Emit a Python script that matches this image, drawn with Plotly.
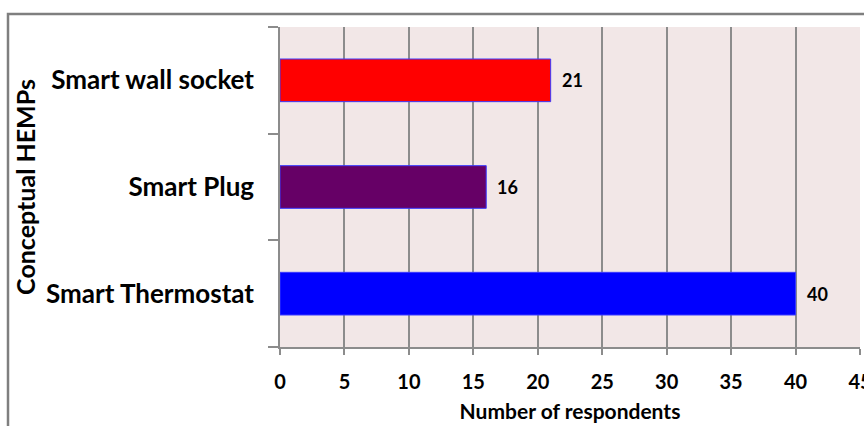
import plotly.graph_objects as go

# Survey results: preferred conceptual home energy management products
products = ["Smart Thermostat", "Smart Plug", "Smart wall socket"]
respondents = [40, 16, 21]
bar_colors = ["#0000FF", "#660066", "#FF0000"]

x_ticks = [0, 5, 10, 15, 20, 25, 30, 35, 40, 45]

FONT = "Lato, Carlito, Calibri, sans-serif"
GRID = "#8C8C8C"

fig = go.Figure(
    go.Bar(
        x=respondents,
        y=products,
        orientation="h",
        width=0.4,
        marker=dict(color=bar_colors, line=dict(color="#3A3AFF", width=1)),
        cliponaxis=False,
    )
)

# value labels just right of each bar end
for name, val in zip(products, respondents):
    fig.add_annotation(
        x=val, y=name, xref="x", yref="y",
        text=str(val), showarrow=False,
        xanchor="left", xshift=9,
        font=dict(family=FONT, size=18, color="black", weight="bold"),
    )

W, H = 864, 426
L, R, T, B = 280, 4, 27, 79
pw, ph = W - L - R, H - T - B

# outer chart frame (partly cut by the page edges)
fig.add_shape(
    type="rect", xref="paper", yref="paper",
    x0=(8 - L) / pw, x1=(W + 10 - L) / pw,
    y0=-(B + 10) / ph, y1=(H - B - 14) / ph,
    line=dict(color="#7F7F7F", width=2.5), fillcolor="rgba(0,0,0,0)",
    layer="below",
)
# short stub of the value axis left of the category axis
fig.add_shape(
    type="line", xref="paper", yref="paper",
    x0=-12 / pw, x1=0, y0=0, y1=0,
    line=dict(color=GRID, width=1.5),
)

fig.update_layout(
    width=W, height=H,
    margin=dict(l=L, r=R, t=T, b=B, autoexpand=False),
    paper_bgcolor="white",
    plot_bgcolor="#F2E7E7",
    showlegend=False,
    font=dict(family=FONT, color="black"),
    bargap=0.6,
)

fig.update_xaxes(
    range=[0, 45],
    tickvals=x_ticks,
    ticktext=[str(v) for v in x_ticks],
    tickfont=dict(family=FONT, size=20, color="black", weight="bold"),
    ticks="outside", ticklen=6, tickcolor=GRID, tickwidth=1.5,
    ticklabelstandoff=10,
    ticklabeloverflow="allow",
    showgrid=True, gridcolor=GRID, gridwidth=1.5,
    showline=True, linecolor=GRID, linewidth=1.5,
    zeroline=False,
    title=dict(text="Number of respondents",
               font=dict(family=FONT, size=21, color="black", weight="bold"),
               standoff=13),
    automargin=False,
)

fig.update_yaxes(
    categoryorder="array", categoryarray=products,
    range=[-0.5, 2.5],
    tickson="boundaries",
    ticks="outside", ticklen=10, tickcolor=GRID, tickwidth=1.5,
    tickfont=dict(family=FONT, size=26, color="black", weight="bold"),
    ticklabelstandoff=19,
    showgrid=False,
    showline=True, linecolor=GRID, linewidth=1.5,
    title=dict(text="Conceptual HEMPs",
               font=dict(family=FONT, size=25, color="black", weight="bold"),
               standoff=3),
    automargin=False,
)

fig.write_html("out.html")
